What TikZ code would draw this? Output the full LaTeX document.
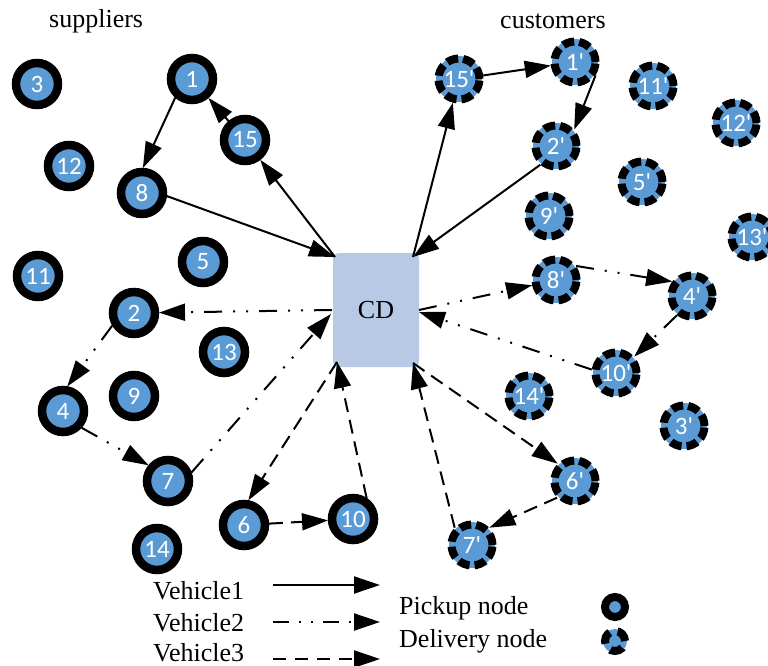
\documentclass[tikz,border=0pt]{standalone}
\usepackage{fontspec}
\setmainfont{Liberation Serif}
\newfontfamily\nodefont{Carlito}
\usetikzlibrary{arrows.meta}
\definecolor{nblue}{HTML}{5B9BD5}
\definecolor{cdblue}{HTML}{B7C9E4}
\begin{document}
\begin{tikzpicture}[x=1pt,y=-1pt,
  pick/.style={circle,draw=black,line width=8.5pt,fill=nblue,minimum size=42pt,inner sep=0pt,outer sep=4pt,
    text=white,font=\nodefont\fontsize{25}{25}\selectfont},
  deliv/.style={circle,draw=black,line width=8pt,dash pattern=on 11.5pt off 5pt,fill=nblue,
    preaction={draw=nblue,line width=5pt,solid},
    minimum size=41pt,inner sep=0pt,outer sep=4pt,
    text=white,font=\nodefont\fontsize{25}{25}\selectfont},
  ttl/.style={font=\fontsize{26}{26}\selectfont,inner sep=0pt},
  tip/.style={-{Triangle[length=26pt,width=17pt]}},
  vone/.style={line width=2pt,tip},
  vtwo/.style={line width=2pt,tip,dash pattern=on 18pt off 11pt on 2pt off 11pt on 2pt off 11pt},
  vthree/.style={line width=2pt,tip,dash pattern=on 14pt off 8pt},
]
\useasboundingbox (0,0) rectangle (768,666);

% titles
\node[ttl,anchor=base west] (tsup) at (49,28) {suppliers};
\node[ttl,anchor=base west] (tcus) at (500,29) {customers};

% CD
\node[fill=cdblue,rounded corners=6pt,minimum width=86pt,minimum height=114pt,inner sep=0pt,
  font=\fontsize{26}{26}\selectfont] (cd) at (376,310) {CD};
\coordinate (cdTL) at (335,257);
\coordinate (cdTR) at (413,257);
\coordinate (cdL) at (332,310);
\coordinate (cdL2) at (331,314);
\coordinate (cdR) at (419,310);
\coordinate (cdR2) at (419,312);
\coordinate (cdBL) at (337,362);
\coordinate (cdBR) at (413,363);

% pickup nodes
\node[pick] (p3) at (37,84) {3};
\node[pick] (p1) at (192,79) {1};
\node[pick] (p15) at (245,140) {15};
\node[pick] (p12) at (69,166) {12};
\node[pick] (p8) at (142,193) {8};
\node[pick] (p5) at (203,262) {5};
\node[pick] (p11) at (38,276) {11};
\node[pick] (p2) at (134,313) {2};
\node[pick] (p13) at (224,352) {13};
\node[pick] (p9) at (134,396) {9};
\node[pick] (p4) at (63,411) {4};
\node[pick] (p7) at (168,481) {7};
\node[pick] (p6) at (244,525) {6};
\node[pick] (p10) at (353,519) {10};
\node[pick] (p14) at (157,549) {14};

% delivery nodes
\node[deliv] (d15) at (459,79) {15'};
\node[deliv] (d1) at (575,62) {1'};
\node[deliv] (d11) at (653,86) {11'};
\node[deliv] (d12) at (736,123) {12'};
\node[deliv] (d2) at (556,146) {2'};
\node[deliv] (d5) at (642,182) {5'};
\node[deliv] (d9) at (549,216) {9'};
\node[deliv] (d13) at (752,237) {13'};
\node[deliv] (d8) at (556,280) {8'};
\node[deliv] (d4) at (692,296) {4'};
\node[deliv] (d10) at (616,373) {10'};
\node[deliv] (d14) at (529,396) {14'};
\node[deliv] (d3) at (684,426) {3'};
\node[deliv] (d6) at (575,481) {6'};
\node[deliv] (d7) at (472,545) {7'};

% vehicle 1
\draw[vone] (cdTL) -- (p15);
\draw[vone] (p15) -- (p1);
\draw[vone] (p1.228) -- (p8.88);
\draw[vone] (p8.-7) -- (cdTL);
\draw[vone] (cdTR) -- (d15);
\draw[vone] (d15) -- (d1);
\draw[vone] (d1.-33) -- (d2.42);
\draw[vone] (d2.-130) -- (cdTR);

% vehicle 2
\draw[vtwo] (cdL) -- (p2);
\draw[vtwo] (p2.-150) -- (p4.80);
\draw[vtwo] (p4.-42) -- (p7.141);
\draw[vtwo] (p7.20) -- (cdL2);
\draw[vtwo] (cdR) -- (d8);
\draw[vtwo] (d8.35) -- (d4.144);
\draw[vtwo] (d4.-128) -- (d10.42);
\draw[vtwo] (d10.172) -- (cdR2);

% vehicle 3
\draw[vthree] (cdBL) -- (p6.80);
\draw[vthree] (p6) -- (p10);
\draw[vthree] (p10.57) -- (cdBL);
\draw[vthree] (cdBR) -- (d6.135);
\draw[vthree] (d6.-137) -- (d7.45);
\draw[vthree] (d7.135) -- (cdBR);

% legend
\node[ttl,anchor=base west] (lv1) at (153,599) {Vehicle1};
\node[ttl,anchor=base west] (lv2) at (153,631) {Vehicle2};
\node[ttl,anchor=base west] (lv3) at (153,661) {Vehicle3};
\coordinate (l1s) at (273,585); \coordinate (l1e) at (380,585);
\coordinate (l2s) at (273,622); \coordinate (l2e) at (380,622);
\coordinate (l3s) at (273,659); \coordinate (l3e) at (380,659);
\draw[vone] (l1s) -- (l1e);
\draw[vtwo,dash pattern=on 16pt off 10pt on 2pt off 10pt on 2pt off 10pt] (l2s) -- (l2e);
\draw[vthree,dash pattern=on 13pt off 9pt] (l3s) -- (l3e);
\node[ttl,anchor=base west] (lpick) at (399,614) {Pickup node};
\node[ttl,anchor=base west] (ldel) at (399,647) {Delivery node};
\node[circle,draw=black,line width=8pt,fill=nblue,minimum size=20pt,inner sep=0pt] (lp) at (615,607) {};
\node[circle,draw=black,line width=8pt,dash pattern=on 13pt off 8pt,fill=nblue,
  preaction={draw=nblue,line width=4pt,solid},minimum size=20pt,inner sep=0pt] (ld) at (615,641) {};
\end{tikzpicture}
\end{document}
